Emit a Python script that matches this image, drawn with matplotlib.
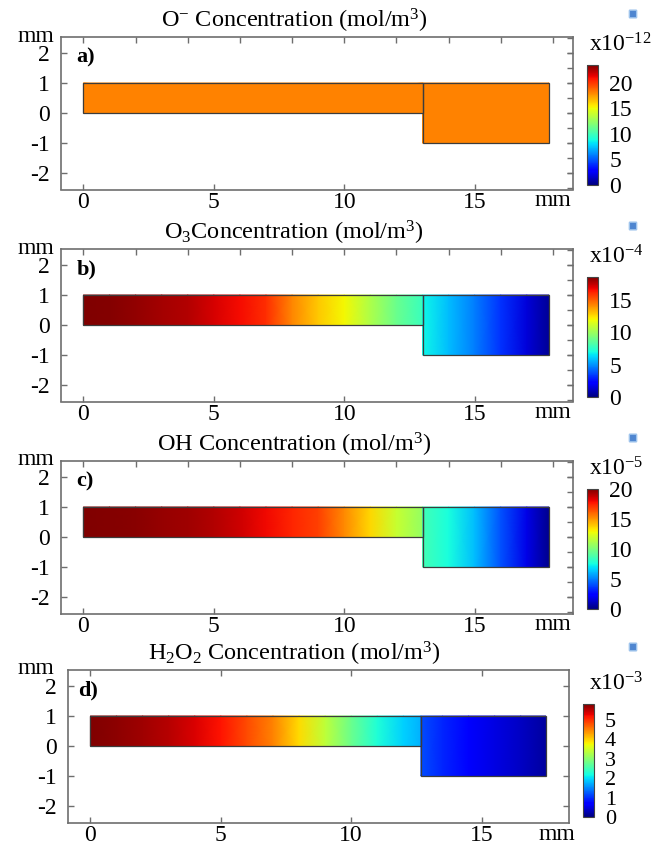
import numpy as np
import matplotlib
matplotlib.use("Agg")
import matplotlib.pyplot as plt
from matplotlib.patches import Rectangle, FancyBboxPatch

plt.rcParams['font.family'] = 'Liberation Serif'
plt.rcParams['mathtext.fontset'] = 'custom'
plt.rcParams['mathtext.rm'] = 'Liberation Serif'
plt.rcParams['mathtext.it'] = 'Liberation Serif:italic'

# panel text
titles = [r"O$^{-}$ Concentration (mol/m$^3$)",
          r"O$_3$Concentration (mol/m$^3$)",
          r"OH Concentration (mol/m$^3$)",
          r"H$_2$O$_2$ Concentration (mol/m$^3$)"]
tags = ["a)", "b)", "c)", "d)"]
scale_labels = [r"x10$^{-12}$", r"x10$^{-4}$", r"x10$^{-5}$", r"x10$^{-3}$"]
cbar_max = [23.5, 18.6, 20.0, 5.8]
cbar_ticks = [[0, 5, 10, 15, 20], [0, 5, 10, 15], [0, 5, 10, 15, 20], [0, 1, 2, 3, 4, 5]]

x_ticks = [0, 5, 10, 15]
y_ticks = [-2, -1, 0, 1, 2]
y_ticklabels = ["-2", "-1", "0", "1", "2"]

# geometry (mm): channel y 0..1, chamber y -1..1
channel_end = [13.0, 13.0, 13.0, 12.67]
chamber_end = [17.85, 17.85, 17.85, 17.46]
x_right = [18.77, 18.77, 18.77, 18.35]

# concentration along x
o_chan_x = [0, 13.0]
o_chan = [18.1, 18.1]
o_cham_x = [13.0, 17.85]
o_cham = [18.1, 18.1]

abc_chan_x = [0, 1, 2, 3, 4, 5, 6, 7, 8, 9, 10, 11, 12, 13.0]
abc_cham_x = [13.0, 14, 15, 16, 17, 17.85]
o3_chan = [18.6, 18.5, 18.3, 18.0, 17.8, 17.2, 16.7, 16.0, 14.3, 13.0, 12.0, 10.4, 8.9, 7.8]
o3_cham = [6.9, 5.8, 4.6, 3.2, 1.5, 0.4]
oh_chan = [20.0, 19.9, 19.8, 19.6, 19.4, 19.1, 18.6, 18.0, 17.4, 16.8, 15.3, 13.6, 11.8, 10.6]
oh_cham = [8.6, 7.6, 6.2, 4.1, 1.8, 0.3]

d_chan_x = [0, 1, 2, 3, 4, 5, 6, 7, 8, 9, 10, 11, 12, 12.67]
d_cham_x = [12.67, 13.5, 14.5, 15.5, 16.5, 17.46]
h2o2_chan = [5.80, 5.71, 5.63, 5.51, 5.34, 5.16, 4.81, 4.47, 3.94, 3.36, 2.78, 2.26, 1.91, 1.74]
h2o2_cham = [1.16, 0.93, 0.70, 0.52, 0.35, 0.17]

fields = [(o_chan_x, o_chan, o_cham_x, o_cham),
          (abc_chan_x, o3_chan, abc_cham_x, o3_cham),
          (abc_chan_x, oh_chan, abc_cham_x, oh_cham),
          (d_chan_x, h2o2_chan, d_cham_x, h2o2_cham)]

W, H = 654, 849
fig = plt.figure(figsize=(W / 100, H / 100), dpi=100)
frame_col = "#6e6e6e"


def rect(l, t, r, b):
    return [l / W, 1 - b / H, (r - l) / W, (b - t) / H]


def strip(ax, xs, y0, y1, vals, vmax):
    X, Y = np.meshgrid(xs, [y0, y1])
    C = np.vstack([vals, vals])
    return ax.pcolormesh(X, Y, C, shading='gouraud', cmap='jet', vmin=0, vmax=vmax)


centers = [113, 325, 537, 746]
for i in range(4):
    cy = centers[i]
    if i < 3:
        l, r = 61, 573
    else:
        l, r = 68, 569
    ax = fig.add_axes(rect(l, cy - 76.5, r, cy + 76.5))
    cx, cv, hx, hv = fields[i]
    m = strip(ax, cx, 0, 1, cv, cbar_max[i])
    strip(ax, hx, -1, 1, hv, cbar_max[i])
    ax.add_patch(Rectangle((0, 0), channel_end[i], 1, fill=False, ec="#3c3c3c", lw=0.9))
    ax.add_patch(Rectangle((channel_end[i], -1), chamber_end[i] - channel_end[i], 2,
                           fill=False, ec="#3c3c3c", lw=0.9))
    ax.set_xlim(-0.86, x_right[i])
    ax.set_ylim(-2.55, 2.55)

    ax.set_xticks(x_ticks)
    ax.set_xticklabels([str(t) for t in x_ticks])
    ax.set_yticks(y_ticks)
    ax.set_yticklabels(y_ticklabels)
    for s in ax.spines.values():
        s.set_color(frame_col)
        s.set_linewidth(1.2)
    ax.tick_params(direction='in', length=4, width=1, color=frame_col, labelsize=17,
                   top=True, right=True)
    ax.tick_params(axis='x', pad=1.5)
    ax.tick_params(axis='y', pad=8)
    if i < 3:
        ax.xaxis.remove_overlapping_locs = False
        ax.yaxis.remove_overlapping_locs = False
        ax.set_xticks(np.arange(0, 19, 2), minor=True)
        ax.set_yticks(np.arange(-2.5, 2.6, 0.5), minor=True)
        ax.tick_params(axis='x', which='major', top=False)
        ax.tick_params(which='minor', direction='in', length=4, width=1, color=frame_col,
                       bottom=False, left=False, top=True, right=True)

    ax.text(0.02 if i == 3 else 0.03, 0.86, tags[i], transform=ax.transAxes,
            fontsize=16, fontweight='bold', va='center', ha='left')

    # titles and unit labels
    fig.text(294 / W, 1 - (cy - 92) / H, titles[i], fontsize=17.5, ha='center', va='center')
    fig.text(36 / W, 1 - (cy - 77) / H, "mm", fontsize=17, ha='center', va='center')
    fig.text((553 if i < 3 else 557) / W, 1 - (cy + 88) / H, "mm", fontsize=17,
             ha='center', va='center')

    # colorbar
    if i < 3:
        cax = fig.add_axes(rect(587, cy - 48, 598, cy + 72))
    else:
        cax = fig.add_axes(rect(583, cy - 42, 594, cy + 71))
    cb = fig.colorbar(m, cax=cax, ticks=cbar_ticks[i])
    cb.ax.set_yticklabels([str(t) for t in cbar_ticks[i]])
    cb.ax.tick_params(length=0, labelsize=17 if i < 3 else 16, pad=8)
    cb.outline.set_edgecolor("#444444")
    cb.outline.set_linewidth(0.8)
    top = cy - 48 if i < 3 else cy - 42
    fig.text(589 / W, 1 - (top - 20) / H, scale_labels[i], fontsize=17, ha='left', va='center')

    # small corner icon
    fig.add_artist(FancyBboxPatch((630 / W, 1 - (cy - 96) / H), 6 / W, 6 / H,
                                  boxstyle="round,pad=0.001", transform=fig.transFigure,
                                  fc="#4f86d0", ec="#9fc4ec", lw=1))

fig.savefig("out.png", dpi=100)
